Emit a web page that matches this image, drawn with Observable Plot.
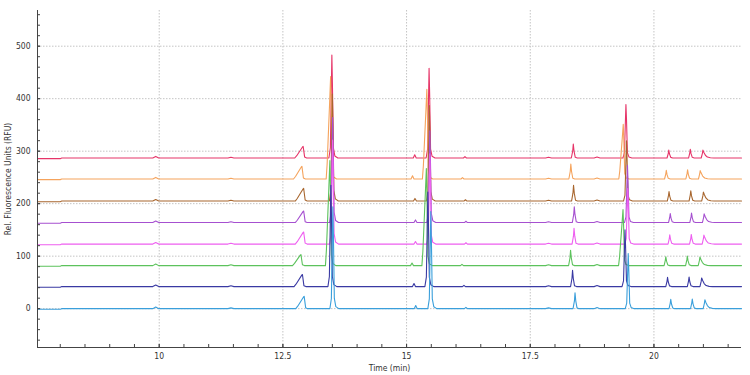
<!DOCTYPE html>
<html>
<head>
<meta charset="utf-8">
<script src="https://cdn.jsdelivr.net/npm/d3@7"></script>
<script src="https://cdn.jsdelivr.net/npm/@observablehq/plot@0.6"></script>
<style>
  html, body { margin: 0; padding: 0; background: #fff; }
  #chart svg { display: block; }
</style>
</head>
<body>
<div id="chart"></div>
<script>
// ---- data (bottom trace first) ----
const seriesNames = ["Sample 1", "Sample 2", "Sample 3", "Sample 4", "Sample 5", "Sample 6", "Sample 7", "Sample 8"];
const seriesColors = ["#3a9fdb", "#3a3aa3", "#5cc25c", "#ee5ff0", "#a650d0", "#a8662e", "#f5a35c", "#e63468"];
const baselineOffsets = [0, 42, 82, 123, 164, 205, 247, 287];
const fronting = [false, false, true, false, false, false, true, false];

// peak kinds, shared by every trace
const peakKinds = ["small", "big", "tiny", "big", "tiny", "medium", "big", "sharp", "sharp", "tail"];

// apex times (min), one row per trace
const peakTimes = [
  [12.93, 13.51, 15.185, 15.49, 16.20, 18.405, 19.48, 20.34, 20.775, 21.03],
  [12.895, 13.47, 15.15, 15.43, 16.16, 18.355, 19.415, 20.275, 20.71, 20.965],
  [12.865, 13.45, 15.11, 15.40, 16.12, 18.315, 19.375, 20.24, 20.675, 20.93],
  [12.92, 13.505, 15.18, 15.47, 16.20, 18.385, 19.47, 20.32, 20.755, 21.01],
  [12.92, 13.505, 15.18, 15.47, 16.20, 18.39, 19.465, 20.33, 20.76, 21.015],
  [12.92, 13.50, 15.17, 15.46, 16.19, 18.375, 19.445, 20.305, 20.745, 21.00],
  [12.885, 13.465, 15.12, 15.41, 16.13, 18.32, 19.38, 20.25, 20.68, 20.935],
  [12.91, 13.49, 15.165, 15.455, 16.18, 18.37, 19.434, 20.30, 20.735, 20.99]
];
// apex heights above each trace's baseline (RFU)
const peakHeights = [
  [23.5, 194, 6, 185, 2.5, 30, 105, 17.7, 18.4, 17],
  [23, 193, 6, 180, 2.5, 31, 108, 17.7, 18.4, 16.5],
  [21, 200, 5, 185, 2.5, 29, 107, 17, 18, 16.5],
  [23, 198, 5, 172, 2.5, 30, 106, 17.7, 18.4, 17],
  [22, 200, 5, 175, 2.5, 30, 109, 17, 18, 16.5],
  [24, 204, 5, 182, 2.5, 30, 115, 18, 19.6, 17],
  [24, 195, 6, 171, 2.5, 28.5, 104, 16.5, 17.7, 16],
  [22, 196, 6, 171, 2.5, 26.6, 102, 15, 16.5, 15]
];
// small baseline wiggles shared by all traces
const wiggleTimes = [9.93, 11.45, 17.87, 18.85];
const wiggleHeights = [3, 1.5, 1.5, 2];
const startLevel = -1.2;     // baseline level before the step at 8.0 min
const stepTimes = [8.0, 8.03];

// peak outlines: [minutes from apex, fraction of apex]
const peakOutlines = {
  wiggle: [[-0.06, 0], [0, 1], [0.06, 0]],
  tiny:   [[-0.03, 0], [0, 1], [0.03, 0]],
  small:  [[-0.17, 0], [-0.13, 0.2], [-0.01, 0.97], [0, 1], [0.03, 0.08], [0.07, 0]],
  big:    [[-0.06, 0], [-0.03, 0.1], [-0.01, 0.7], [0, 1], [0.012, 0.7], [0.03, 0.1], [0.06, 0.02], [0.12, 0]],
  bigFront: [[-0.09, 0], [-0.07, 0.15], [-0.02, 0.75], [0, 1], [0.012, 0.7], [0.03, 0.1], [0.06, 0.02], [0.12, 0]],
  medium: [[-0.04, 0], [-0.012, 0.5], [0, 1], [0.015, 0.5], [0.04, 0.05], [0.08, 0]],
  sharp:  [[-0.035, 0], [-0.01, 0.6], [0, 1], [0.015, 0.5], [0.04, 0.08], [0.08, 0]],
  tail:   [[-0.035, 0], [-0.01, 0.6], [0, 1], [0.02, 0.7], [0.05, 0.35], [0.09, 0.12], [0.15, 0.03], [0.22, 0]]
};

// axes
const xDomain = [7.54, 21.77];
const yDomain = [-74, 568];
const xTicks = [10, 12.5, 15, 17.5, 20];
const xMinorTicks = d3.range(8, 21.76, 0.5);
const yTicks = [0, 100, 200, 300, 400, 500];
const yMinorTicks = d3.range(-60, 561, 20);
const xLabel = "Time (min)";
const yLabel = "Rel. Fluorescence Units (RFU)";

// ---- build the line table ----
const rows = [];
for (let s = seriesNames.length - 1; s >= 0; s--) {
  const off = baselineOffsets[s];
  const feats = [];
  wiggleTimes.forEach((t, i) => feats.push({t, h: wiggleHeights[i], kind: "wiggle"}));
  peakTimes[s].forEach((t, i) => {
    let kind = peakKinds[i];
    if (kind === "big" && fronting[s]) kind = "bigFront";
    feats.push({t, h: peakHeights[s][i], kind});
  });
  feats.sort((a, b) => a.t - b.t);
  const pts = [[xDomain[0], startLevel], [stepTimes[0], startLevel], [stepTimes[1], 0]];
  for (const f of feats) for (const [dt, fr] of peakOutlines[f.kind]) pts.push([f.t + dt, f.h * fr]);
  pts.push([xDomain[1], 0]);
  for (const [t, v] of pts) rows.push({series: seriesNames[s], t, v: v + off});
}

const font = "'Liberation Sans Narrow', 'DejaVu Sans Condensed', 'Liberation Sans', sans-serif";

const chart = Plot.plot({
  width: 750,
  height: 375,
  marginLeft: 37,
  marginRight: 9,
  marginTop: 10,
  marginBottom: 28,
  style: {fontFamily: font, fontSize: "8.5px", color: "#333", background: "#fff"},
  x: {domain: xDomain},
  y: {domain: yDomain},
  color: {domain: seriesNames, range: seriesColors},
  marks: [
    Plot.gridX(xTicks, {stroke: "#c4c4c4", strokeOpacity: 1, strokeDasharray: "1.5,1.5"}),
    Plot.gridY(yTicks, {stroke: "#c4c4c4", strokeOpacity: 1, strokeDasharray: "1.5,1.5"}),
    Plot.line(rows, {x: "t", y: "v", z: "series", stroke: "series", strokeWidth: 1.1, curve: "linear"}),
    Plot.ruleX([xDomain[0]], {stroke: "#444"}),
    Plot.ruleY([yDomain[0]], {stroke: "#444"}),
    Plot.axisX(xMinorTicks, {tickSize: -3, tickFormat: () => "", label: null, stroke: "#444"}),
    Plot.axisX(xTicks, {tickSize: -3, tickPadding: 8, tickFormat: d => String(d), label: xLabel, labelAnchor: "center", labelOffset: 23, labelArrow: "none", stroke: "#444"}),
    Plot.axisY(yMinorTicks, {tickSize: -3, tickFormat: () => "", label: null, stroke: "#444"}),
    Plot.axisY(yTicks, {tickSize: -3, tickPadding: 10, tickFormat: d => String(d), label: yLabel, labelAnchor: "center", labelOffset: 33, labelArrow: "none", stroke: "#444"})
  ]
});
document.getElementById("chart").appendChild(chart);
</script>
</body>
</html>
